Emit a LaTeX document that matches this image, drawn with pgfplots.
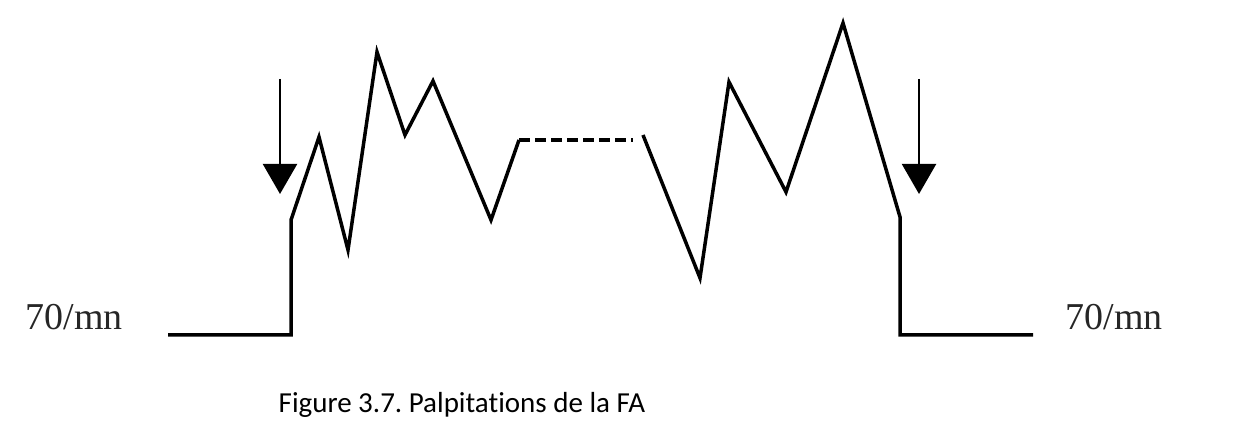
\documentclass[border=0pt]{standalone}
\usepackage{pgfplots}
\pgfplotsset{compat=1.18}
\usepackage{fontspec}
\setmainfont{Liberation Serif}
\newfontfamily\capfont[Ligatures=NoCommon]{Carlito}
\usetikzlibrary{arrows.meta}
\frenchspacing
\begin{document}
\begin{tikzpicture}
\begin{axis}[
  at={(0,0)}, anchor=south west,
  scale only axis, width=124.8mm, height=44.2mm,
  xmin=0, xmax=1248, ymin=-442, ymax=0,
  hide axis, clip=false,
]
% main trace (pixel coordinates, y downward as negative)
\addplot[black, line width=0.35mm, line join=miter, mark=none] coordinates {
 (168,-335) (291,-335) (291,-220) (319,-137) (348,-250) (377,-52) (405,-135)
 (433,-81) (491,-220) (519,-140)
};
\addplot[black, line width=0.35mm, dash pattern=on 1.05mm off 0.55mm, mark=none] coordinates {
 (519,-140) (633,-140)
};
\addplot[black, line width=0.35mm, line join=miter, mark=none] coordinates {
 (643,-135) (700,-278) (729,-82) (786,-192) (843,-23) (900,-217) (900,-335) (1033,-335)
};
% arrows
\addplot[black, line width=0.22mm, -{Triangle[width=3.4mm,length=3.0mm]}, mark=none] coordinates {
 (280,-79) (280,-194)
};
\addplot[black, line width=0.22mm, -{Triangle[width=3.4mm,length=3.0mm]}, mark=none] coordinates {
 (919,-79) (919,-194)
};
\node[anchor=base west, inner sep=0, font=\fontsize{10.8pt}{12pt}\selectfont, text=black!85] at (axis cs:25,-330) {70/mn};
\node[anchor=base west, inner sep=0, font=\fontsize{10.8pt}{12pt}\selectfont, text=black!85] at (axis cs:1065,-330) {70/mn};
\node[anchor=base west, inner sep=0, font=\capfont\fontsize{8.25pt}{10pt}\selectfont] at (axis cs:278,-412) {Figure 3.7. Palpitations de la FA};
\end{axis}
\pgfresetboundingbox
\path (0,0) rectangle (124.8mm,44.2mm);
\end{tikzpicture}
\end{document}
